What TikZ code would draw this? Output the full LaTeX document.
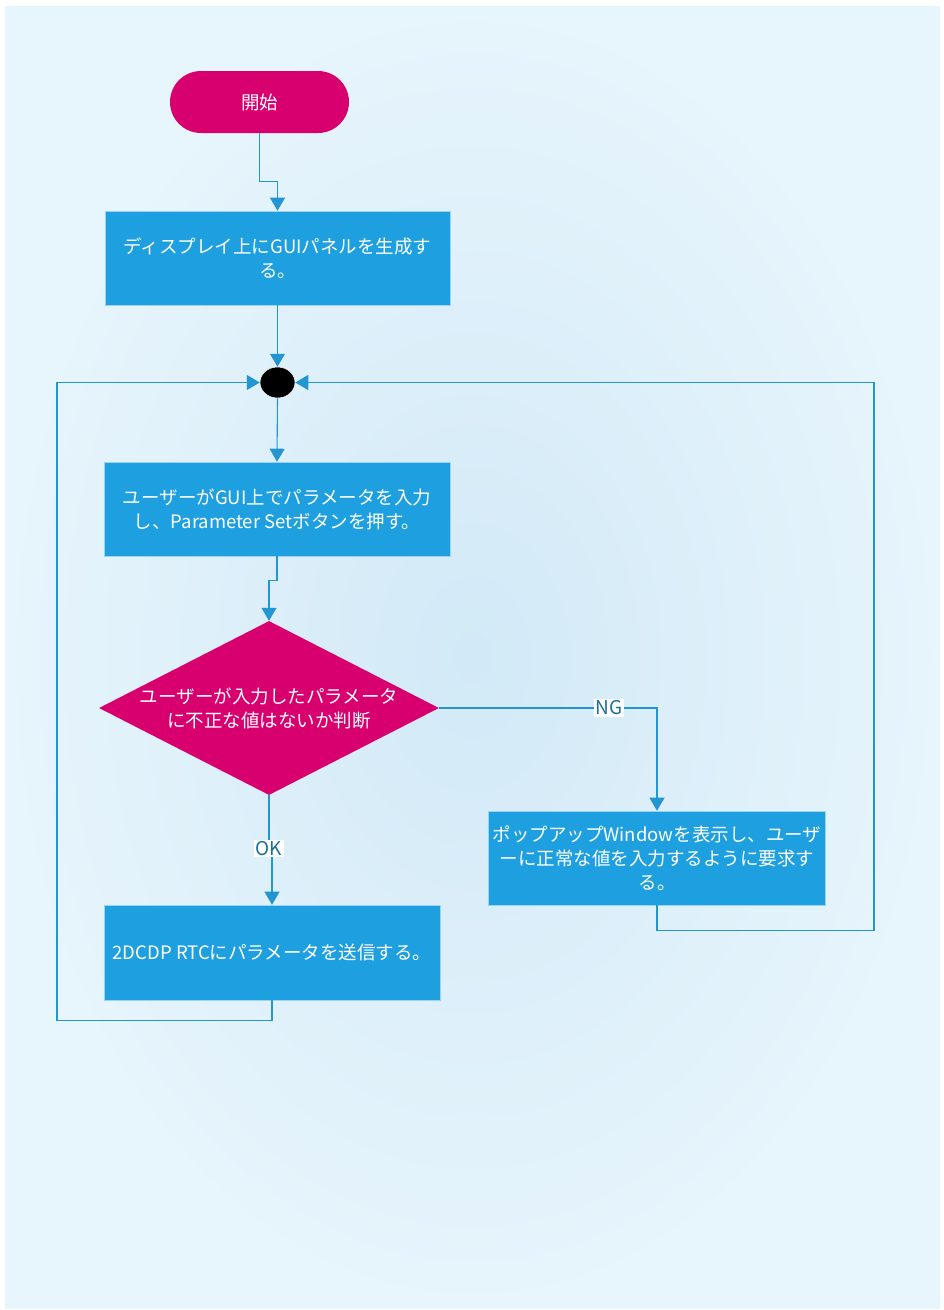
\documentclass[tikz,border=0pt]{standalone}
\usepackage{fontspec}
\setmainfont{Noto Sans CJK JP}
\usepackage{xcolor}
\usetikzlibrary{shapes.geometric, arrows.meta, positioning, calc}
\definecolor{processcolor}{RGB}{30,160,224}
\definecolor{decisioncolor}{RGB}{216,0,111}
\definecolor{flowcolor}{RGB}{35,150,210}
\definecolor{labelcolor}{RGB}{27,111,150}
\definecolor{bginner}{RGB}{210,233,247}
\definecolor{bgouter}{RGB}{231,245,252}

\begin{document}
\begin{tikzpicture}[
    x=1pt, y=-1pt,
    terminal/.style={fill=decisioncolor, text=white, rounded corners=31pt, minimum width=179pt, minimum height=62pt, font=\fontsize{18.5}{24}\selectfont},
    process/.style={draw=white!55!processcolor, line width=0.6pt, fill=processcolor, text=white, minimum height=94pt, align=center, inner sep=4pt, font=\fontsize{18.5}{24}\selectfont},
    decision/.style={diamond, fill=decisioncolor, minimum width=340pt, minimum height=174pt, inner sep=0pt},
    dectext/.style={text=white, align=center, font=\fontsize{18.5}{24}\selectfont},
    joinpoint/.style={ellipse, fill=black, draw=white, line width=0.5pt, minimum width=35pt, minimum height=31pt, inner sep=0pt},
    flow/.style={draw=flowcolor, line width=1.1pt, -{Triangle[length=13pt, width=15pt]}},
    lbl/.style={fill=white, text=labelcolor, inner sep=1.5pt, font=\fontsize{19}{20}\selectfont}
]
    % Background
    \useasboundingbox (0,0) rectangle (944,1310);
    \fill[white] (0,0) rectangle (944,1310);
    \shade[inner color=bginner, outer color=bgouter] (5,6) rectangle (940,1308);

    % Nodes
    \node[terminal] (start) at (259.5,102) {開始};
    \node[process, minimum width=345pt] (gen) at (277.5,258) {ディスプレイ上にGUIパネルを生成す\\る。};
    \node[joinpoint] (join) at (277.5,382.5) {};
    \node[process, minimum width=346pt] (input) at (277,509) {ユーザーがGUI上でパラメータを入力\\し、Parameter Setボタンを押す。};
    \node[decision] (check) at (269,708) {};
    \node[dectext] (checktext) at (check) {ユーザーが入力したパラメータ\\に不正な値はないか判断};
    \node[process, minimum width=336pt] (popup) at (657,858) {ポップアップWindowを表示し、ユーザ\\ーに正常な値を入力するように要求す\\る。};
    \node[process, minimum width=336pt, minimum height=95pt] (send) at (272,952.5) {2DCDP RTCにパラメータを送信する。};

    % Loop corners
    \coordinate (loopL) at (57,382.5);
    \coordinate (loopR) at (874,382.5);

    % Connections
    \draw[flow] (start.south) -- ++(0,48) -| (gen.north);
    \draw[flow] (gen.south) -- (join.north);
    \draw[flow] (join.south) -- (input.north);
    \draw[flow] (input.south) -- ++(0,24) -| (check.north);
    \draw[flow] (check.east) -| node[lbl, pos=0.39] {NG} (popup.north);
    \draw[flow] (check.south) -- ++(0,53) node[lbl] {OK} -| (send.north);
    \draw[flow] (send.south) -- ++(0,20) -| (loopL) -- (join.west);
    \draw[flow] (popup.south) -- ++(0,25) -| (loopR) -- (join.east);
\end{tikzpicture}
\end{document}
